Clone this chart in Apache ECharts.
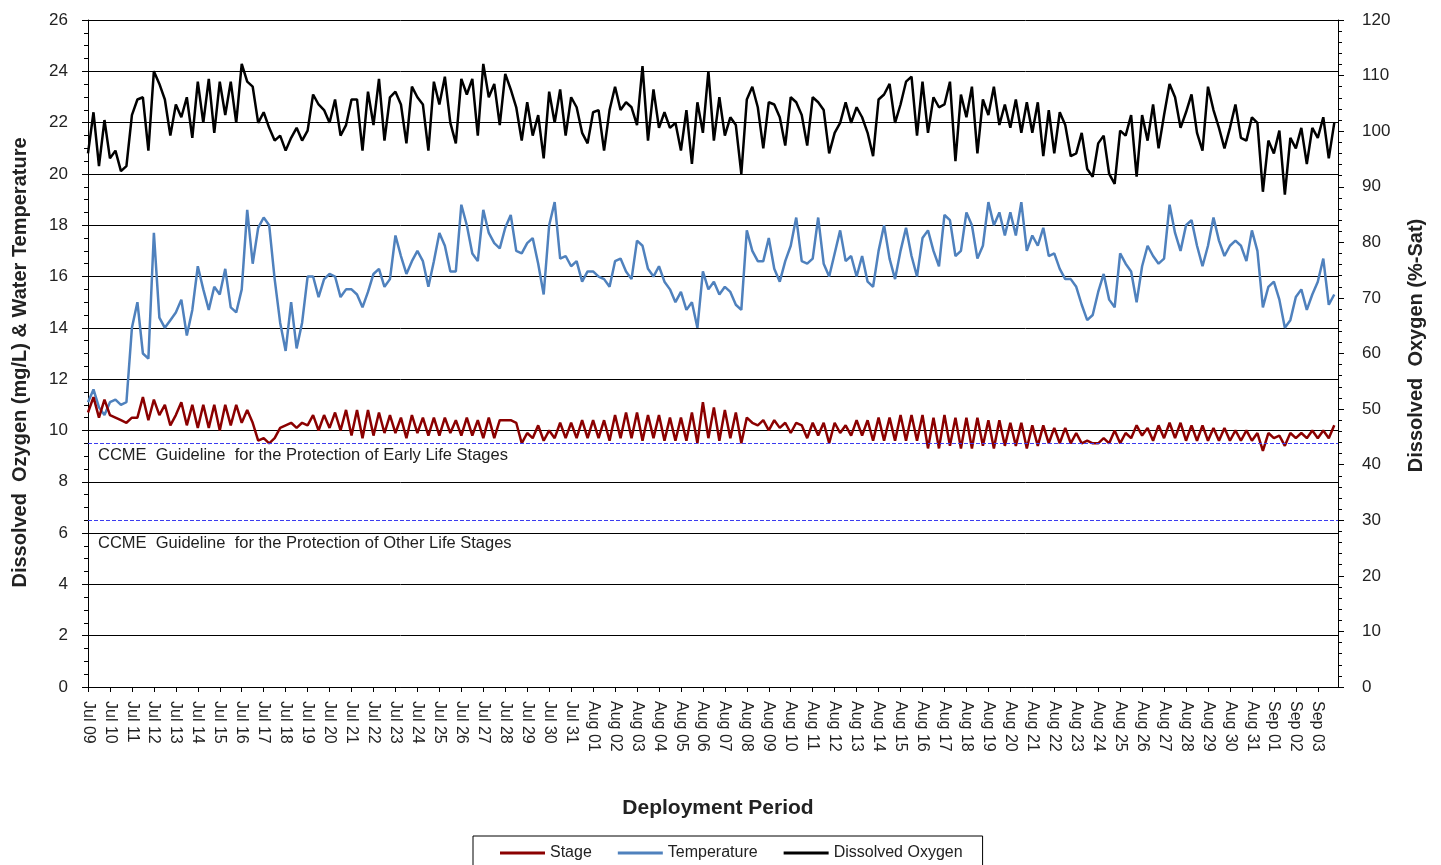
<!DOCTYPE html>
<html>
<head>
<meta charset="utf-8">
<title>Deployment Period</title>
<script src="https://cdn.jsdelivr.net/npm/echarts@6/dist/echarts.min.js"></script>
<style>
  html, body { margin: 0; padding: 0; background: #fff; }
  #chart { width: 1441px; height: 865px; }
</style>
</head>
<body>
<div id="chart"></div>
<script>
// readings every 6 h starting Jul 09 00:00 (one row = one day)
var stepDays = 0.25;
var startDay = Date.UTC(2013, 6, 9);
var monthNames = ['Jan','Feb','Mar','Apr','May','Jun','Jul','Aug','Sep','Oct','Nov','Dec'];

// stage (left axis)
var stage = [
  10.7, 11.3, 10.5, 11.2,   10.6, 10.5, 10.4, 10.3,   10.5, 10.5, 11.3, 10.4,   11.2, 10.6, 11.0, 10.2,
  10.6, 11.1, 10.2, 11.0,   10.1, 11.0, 10.1, 11.0,   10.0, 11.0, 10.2, 11.0,   10.3, 10.8, 10.3, 9.6,
  9.7, 9.5, 9.7, 10.1,      10.2, 10.3, 10.1, 10.3,   10.2, 10.6, 10.0, 10.6,   10.1, 10.7, 10.0, 10.8,
  9.8, 10.8, 9.7, 10.8,     9.8, 10.7, 9.9, 10.6,     9.9, 10.5, 9.7, 10.6,     9.9, 10.5, 9.8, 10.5,
  9.8, 10.5, 9.9, 10.4,     9.8, 10.5, 9.8, 10.4,     9.7, 10.5, 9.7, 10.4,     10.4, 10.4, 10.3, 9.5,
  9.9, 9.7, 10.2, 9.6,      10.0, 9.7, 10.3, 9.7,     10.3, 9.7, 10.4, 9.7,     10.4, 9.7, 10.4, 9.6,
  10.6, 9.7, 10.7, 9.7,     10.7, 9.6, 10.6, 9.7,     10.6, 9.6, 10.5, 9.6,     10.5, 9.6, 10.7, 9.5,
  11.1, 9.7, 10.9, 9.6,     10.8, 9.7, 10.7, 9.5,     10.5, 10.3, 10.2, 10.4,   10.0, 10.4, 10.1, 10.3,
  9.9, 10.3, 10.2, 9.7,     10.3, 9.8, 10.3, 9.5,     10.3, 9.9, 10.2, 9.8,     10.4, 9.8, 10.4, 9.6,
  10.5, 9.6, 10.5, 9.6,     10.6, 9.6, 10.6, 9.6,     10.6, 9.3, 10.5, 9.3,     10.6, 9.4, 10.5, 9.3,
  10.5, 9.3, 10.5, 9.4,     10.4, 9.3, 10.4, 9.4,     10.3, 9.4, 10.3, 9.3,     10.2, 9.4, 10.2, 9.5,
  10.1, 9.5, 10.1, 9.5,     9.9, 9.5, 9.6, 9.5,       9.5, 9.7, 9.5, 10.0,      9.5, 9.9, 9.7, 10.2,
  9.8, 10.1, 9.6, 10.2,     9.7, 10.3, 9.7, 10.3,     9.6, 10.2, 9.6, 10.2,     9.6, 10.1, 9.6, 10.1,
  9.6, 10.0, 9.6, 10.0,     9.6, 9.9, 9.2, 9.9,       9.7, 9.8, 9.4, 9.9,       9.7, 9.9, 9.7, 10.0,
  9.7, 10.0, 9.7, 10.2
];

// water temperature (left axis)
var waterTemp = [
  11.1, 11.6, 10.9, 10.6,   11.1, 11.2, 11.0, 11.1,   14.0, 15.0, 13.0, 12.8,   17.7, 14.4, 14.0, 14.3,
  14.6, 15.1, 13.7, 14.7,   16.4, 15.5, 14.7, 15.6,   15.3, 16.3, 14.8, 14.6,   15.5, 18.6, 16.5, 17.9,
  18.3, 18.0, 15.9, 14.2,   13.1, 15.0, 13.2, 14.2,   16.0, 16.0, 15.2, 15.9,   16.1, 16.0, 15.2, 15.5,
  15.5, 15.3, 14.8, 15.4,   16.1, 16.3, 15.6, 15.9,   17.6, 16.8, 16.1, 16.6,   17.0, 16.6, 15.6, 16.6,
  17.7, 17.2, 16.2, 16.2,   18.8, 18.0, 16.9, 16.6,   18.6, 17.7, 17.3, 17.1,   17.9, 18.4, 17.0, 16.9,
  17.3, 17.5, 16.5, 15.3,   18.0, 18.9, 16.7, 16.8,   16.4, 16.6, 15.8, 16.2,   16.2, 16.0, 15.9, 15.6,
  16.6, 16.7, 16.2, 15.9,   17.4, 17.2, 16.3, 16.0,   16.4, 15.8, 15.5, 15.0,   15.4, 14.7, 15.0, 14.0,
  16.2, 15.5, 15.8, 15.3,   15.6, 15.4, 14.9, 14.7,   17.8, 17.0, 16.6, 16.6,   17.5, 16.3, 15.8, 16.6,
  17.2, 18.3, 16.6, 16.5,   16.7, 18.3, 16.5, 16.0,   16.9, 17.8, 16.6, 16.8,   16.0, 16.8, 15.8, 15.6,
  17.0, 18.0, 16.7, 15.9,   17.0, 17.9, 16.8, 16.0,   17.5, 17.8, 17.0, 16.4,   18.4, 18.2, 16.8, 17.0,
  18.5, 18.0, 16.7, 17.2,   18.9, 18.0, 18.5, 17.6,   18.5, 17.6, 18.9, 17.0,   17.6, 17.2, 17.9, 16.8,
  16.9, 16.3, 15.9, 15.9,   15.6, 14.9, 14.3, 14.5,   15.4, 16.1, 15.1, 14.8,   16.9, 16.5, 16.2, 15.0,
  16.4, 17.2, 16.8, 16.5,   16.7, 18.8, 17.7, 17.0,   18.0, 18.2, 17.2, 16.4,   17.2, 18.3, 17.4, 16.8,
  17.2, 17.4, 17.2, 16.6,   17.8, 17.0, 14.8, 15.6,   15.8, 15.1, 14.0, 14.3,   15.2, 15.5, 14.7, 15.3,
  15.8, 16.7, 14.9, 15.3
];

// dissolved oxygen, %-Sat (right axis)
var doSat = [
  96.0, 103.4, 93.7, 102.0,    95.1, 96.5, 92.8, 93.7,      102.9, 105.7, 106.1, 96.5,   110.8, 108.5, 105.7, 99.2,
  104.8, 102.5, 106.1, 98.8,   108.9, 101.5, 109.4, 99.7,   108.9, 102.9, 108.9, 101.5,  112.1, 108.9, 108.0, 101.5,
  103.4, 100.6, 98.3, 99.2,    96.5, 98.8, 100.6, 98.3,     100.1, 106.6, 104.8, 103.8,  101.5, 105.7, 99.2, 101.1,
  105.7, 105.7, 96.5, 107.1,   101.1, 109.4, 98.3, 106.1,   107.1, 104.8, 97.8, 108.0,   106.1, 104.8, 96.5, 108.9,
  104.8, 109.8, 101.5, 97.8,   109.4, 106.6, 109.4, 99.2,   112.1, 106.1, 108.5, 101.1,  110.3, 107.5, 104.3, 98.3,
  105.2, 99.2, 102.9, 95.1,    107.1, 101.5, 107.5, 99.2,   106.1, 104.3, 99.7, 97.8,    103.4, 103.8, 96.5, 103.8,
  108.0, 103.8, 105.2, 104.3,  101.1, 111.7, 98.3, 107.5,   100.6, 103.4, 100.6, 101.5,  96.5, 103.8, 94.1, 105.2,
  99.7, 110.8, 98.3, 106.1,    99.2, 102.5, 101.1, 92.3,    105.7, 108.0, 104.3, 96.9,   105.2, 104.8, 102.5, 97.4,
  106.1, 105.2, 102.9, 97.4,   106.1, 105.2, 103.8, 96.0,   99.7, 101.5, 105.2, 101.5,   104.3, 102.5, 99.7, 95.5,
  105.7, 106.6, 108.5, 101.5,  104.8, 108.9, 109.8, 99.2,   108.9, 99.7, 106.1, 104.3,   104.8, 108.9, 94.6, 106.6,
  102.5, 108.0, 96.0, 105.7,   102.9, 108.0, 101.1, 104.8,  100.6, 105.7, 99.7, 105.2,   99.7, 105.2, 95.5, 103.8,
  96.0, 103.4, 101.1, 95.5,    96.0, 99.7, 93.2, 91.8,      97.8, 99.2, 92.3, 90.5,      100.1, 99.2, 102.9, 91.8,
  102.9, 98.3, 104.8, 96.9,    102.9, 108.5, 106.1, 100.6,  103.4, 106.6, 99.7, 96.5,    108.0, 103.8, 100.6, 96.9,
  100.6, 104.8, 98.8, 98.3,    102.5, 101.5, 89.1, 98.3,    96.0, 100.1, 88.6, 98.8,     96.9, 100.6, 94.1, 100.6,
  98.8, 102.5, 95.1, 101.5
];

// CCME guidelines (mg/L)
var guideEarly = 9.5;
var guideOther = 6.5;

function pairs(arr) {
  return arr.map(function (v, i) { return [i * stepDays, v]; });
}

function dayLabel(v) {
  if (Math.abs(v - Math.round(v)) > 1e-6) return '';
  var d = new Date(startDay + Math.round(v) * 86400000);
  var dd = d.getUTCDate();
  return monthNames[d.getUTCMonth()] + ' ' + (dd < 10 ? '0' + dd : dd);
}

var font = '"Liberation Sans", Arial, sans-serif';
var guideStyle = { type: 'dashed', color: '#3c3cf0', width: 1 };
var chart = echarts.init(document.getElementById('chart'));

chart.setOption({
  animation: false,
  textStyle: { fontFamily: font },
  grid: { left: 88, right: 103, top: 20, bottom: 178 },
  legend: {
    top: 836,
    left: 473,
    padding: [9, 20, 12, 27],
    borderColor: '#000',
    borderWidth: 1,
    itemGap: 26,
    itemWidth: 45,
    itemHeight: 3,
    icon: 'rect',
    textStyle: { fontSize: 16, color: '#222', fontFamily: font },
    data: ['Stage', 'Temperature', 'Dissolved Oxygen']
  },
  xAxis: {
    type: 'value',
    min: 0,
    max: 56.92,
    interval: 1,
    name: 'Deployment Period',
    nameLocation: 'middle',
    nameGap: 111,
    nameTextStyle: { fontSize: 21, fontWeight: 'bold', color: '#222', fontFamily: font, padding: [0, 0, 0, 10] },
    axisLine: { lineStyle: { color: '#000', width: 1 } },
    axisTick: { length: 5, lineStyle: { color: '#000' } },
    splitLine: { show: false },
    axisLabel: {
      rotate: -90,
      fontSize: 16,
      color: '#222',
      margin: 14,
      showMaxLabel: false,
      formatter: dayLabel
    }
  },
  yAxis: [
    {
      type: 'value',
      min: 0,
      max: 26,
      interval: 2,
      name: 'Dissolved  Ozygen (mg/L) & Water Temperature',
      nameLocation: 'middle',
      nameRotate: 90,
      nameGap: 58,
      nameTextStyle: { fontSize: 20, fontWeight: 'bold', color: '#222', fontFamily: font, padding: [0, 18, 0, 0] },
      axisLine: { show: true, lineStyle: { color: '#000' } },
      axisTick: { show: true, length: 6, lineStyle: { color: '#000' } },
      minorTick: { show: true, splitNumber: 4, length: 4, lineStyle: { color: '#000' } },
      splitLine: { show: true, lineStyle: { color: '#000', width: 1 } },
      axisLabel: { fontSize: 17, color: '#222', margin: 20 }
    },
    {
      type: 'value',
      min: 0,
      max: 120,
      interval: 10,
      name: 'Dissolved  Oxygen (%-Sat)',
      nameLocation: 'middle',
      nameRotate: 90,
      nameGap: 68,
      nameTextStyle: { fontSize: 20, fontWeight: 'bold', color: '#222', fontFamily: font, padding: [0, 0, 0, 16] },
      axisLine: { show: true, lineStyle: { color: '#000' } },
      axisTick: { show: true, length: 6, lineStyle: { color: '#000' } },
      minorTick: { show: true, splitNumber: 5, length: 4, lineStyle: { color: '#000' } },
      splitLine: { show: false },
      axisLabel: { fontSize: 17, color: '#222', margin: 24 }
    }
  ],
  series: [
    {
      name: 'Temperature',
      type: 'line',
      yAxisIndex: 0,
      showSymbol: false,
      color: '#4f81bd',
      lineStyle: { width: 2.5, color: '#4f81bd' },
      data: pairs(waterTemp)
    },
    {
      name: 'Dissolved Oxygen',
      type: 'line',
      yAxisIndex: 1,
      showSymbol: false,
      color: '#000',
      lineStyle: { width: 2.5, color: '#000' },
      data: pairs(doSat)
    },
    {
      name: 'Stage',
      type: 'line',
      yAxisIndex: 0,
      showSymbol: false,
      color: '#8b0000',
      lineStyle: { width: 2.5, color: '#8b0000' },
      data: pairs(stage),
      markLine: {
        silent: true,
        symbol: 'none',
        lineStyle: guideStyle,
        label: {
          position: 'insideStartBottom',
          fontSize: 16.5,
          color: '#222',
          fontFamily: font
        },
        data: [
          {
            yAxis: guideEarly,
            lineStyle: guideStyle,
            label: { distance: [10, 4], formatter: 'CCME  Guideline  for the Protection of Early Life Stages' }
          },
          {
            yAxis: guideOther,
            lineStyle: guideStyle,
            label: { distance: [10, 15], formatter: 'CCME  Guideline  for the Protection of Other Life Stages' }
          }
        ]
      }
    }
  ]
});
</script>
</body>
</html>
